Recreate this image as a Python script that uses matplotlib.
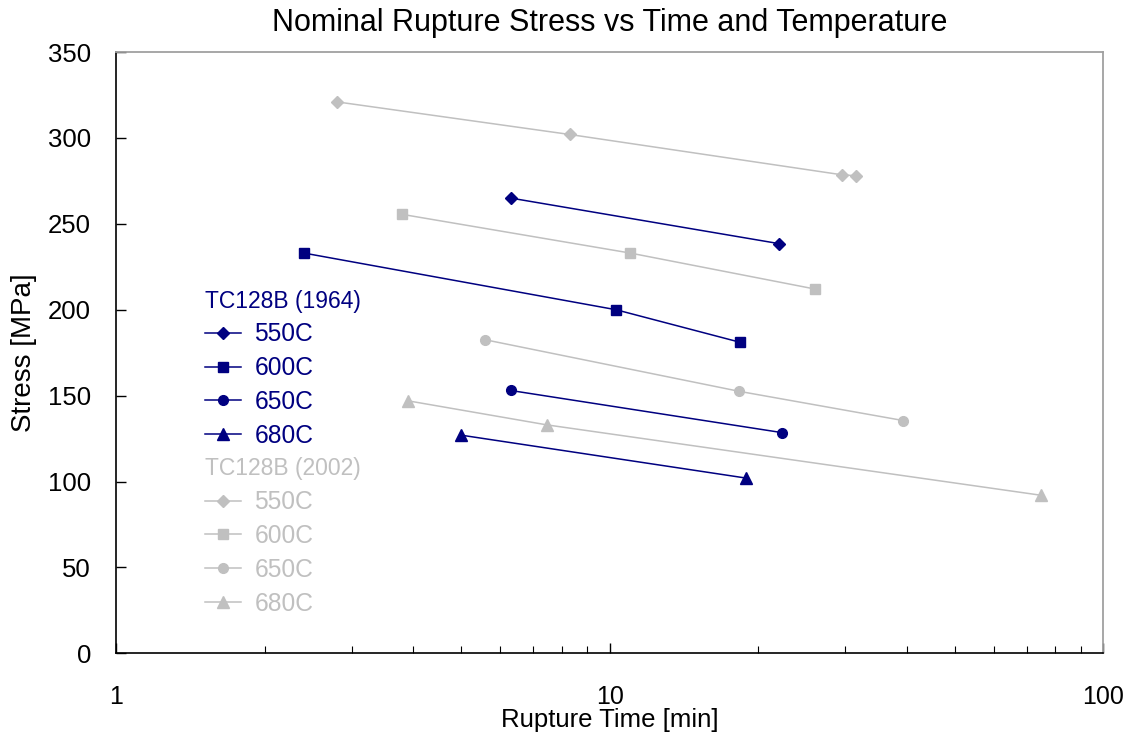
import matplotlib
matplotlib.use("Agg")
import matplotlib.pyplot as plt
from matplotlib import ticker

plt.rcParams['font.family'] = ['Liberation Sans', 'DejaVu Sans']

title = "Nominal Rupture Stress vs Time and Temperature"
xlabel = "Rupture Time [min]"
ylabel = "Stress [MPa]"
temps = ["550C", "600C", "650C", "680C"]
markers = ["D", "s", "o", "^"]
msizes = [6, 7.5, 7, 8]

# TC128B (1964)
t1964 = [[6.3, 22.0], [2.4, 10.3, 18.4], [6.3, 22.3], [5.0, 18.9]]
s1964 = [[265, 238.5], [233, 200, 181], [153, 128.5], [127, 102]]
# TC128B (2002)
t2002 = [[2.8, 8.3, 29.6, 31.5], [3.8, 11.0, 26.1], [5.6, 18.3, 39.3], [3.9, 7.45, 74.8]]
s2002 = [[321, 302, 278.5, 278], [255.5, 233, 212], [182.5, 152.5, 135.5], [147, 133, 92]]

navy = "#000080"
gray = "#c0c0c0"

fig = plt.figure(figsize=(11.33, 7.42), dpi=100)
ax = fig.add_axes([0.1024, 0.1195, 0.8714, 0.8104])

h1 = []
for t, s, m, ms, lab in zip(t1964, s1964, markers, msizes, temps):
    ln, = ax.plot(t, s, color=navy, marker=m, markersize=ms, lw=1.1, label=lab)
    h1.append(ln)
h2 = []
for t, s, m, ms, lab in zip(t2002, s2002, markers, msizes, temps):
    ln, = ax.plot(t, s, color=gray, marker=m, markersize=ms, lw=1.1, label=lab)
    h2.append(ln)

ax.set_xscale('log')
ax.set_xlim(1, 100)
ax.set_ylim(0, 350)
ax.set_yticks(range(0, 351, 50))
ax.xaxis.set_major_formatter(ticker.FuncFormatter(lambda v, p: f"{v:g}"))
ax.xaxis.set_minor_formatter(ticker.NullFormatter())
ax.tick_params(axis='both', which='major', direction='in', length=7, width=1)
ax.tick_params(axis='x', which='major', pad=23, labelsize=18)
ax.tick_params(axis='y', which='major', pad=18, labelsize=18.5)
ax.tick_params(axis='x', which='minor', direction='in', length=5, width=0.8)
ax.tick_params(top=False, right=False, which='both')

for sp in ['top', 'right']:
    ax.spines[sp].set_color('#a0a0a0')
    ax.spines[sp].set_linewidth(1.3)
for sp in ['left', 'bottom']:
    ax.spines[sp].set_color('black')
    ax.spines[sp].set_linewidth(1.2)

ax.set_title(title, fontsize=22, pad=15)
ax.set_xlabel(xlabel, fontsize=18.5, labelpad=-1)
ax.set_ylabel(ylabel, fontsize=20, labelpad=8)

common = dict(loc='upper left', frameon=False, fontsize=17.7, title_fontsize=16.5,
              alignment='left', handlelength=1.46, labelspacing=0.40,
              borderpad=0, handletextpad=0.55, borderaxespad=0)
leg1 = ax.legend(handles=h1, title="TC128B (1964)", bbox_to_anchor=(0.090, 0.605),
                 labelcolor=navy, **common)
leg1.get_title().set_color(navy)
ax.add_artist(leg1)
leg2 = ax.legend(handles=h2, title="TC128B (2002)", bbox_to_anchor=(0.090, 0.326),
                 labelcolor=gray, **common)
leg2.get_title().set_color(gray)

fig.savefig("out.png", dpi=100)
